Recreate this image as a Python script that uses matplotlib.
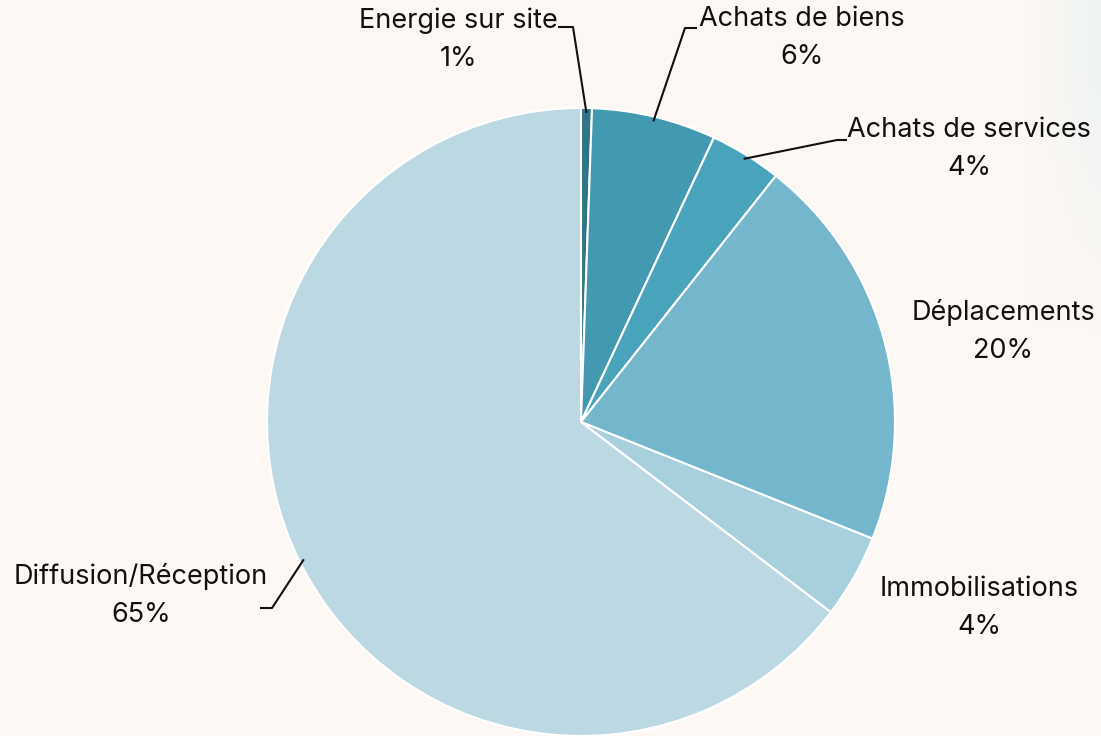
import numpy as np
import matplotlib
matplotlib.use("Agg")
import matplotlib.pyplot as plt

categories = ["Energie sur site", "Achats de biens", "Achats de services",
              "Déplacements", "Immobilisations", "Diffusion/Réception"]
values = [0.56, 6.4, 3.7, 20.4, 4.3, 64.64]
colors = ["#2f7587", "#4399b0", "#48a3bb", "#74b7cd", "#a7cfdc", "#bcd8e2"]

W, H = 1101, 736
bg = "#fdf8f4"
fig = plt.figure(figsize=(W / 100, H / 100), dpi=100, facecolor=bg)

# faint bluish fade at the top-right edge of the background
bgax = fig.add_axes([0, 0, 1, 1], zorder=-1)
bgax.axis("off")
gx = np.linspace(0, 1, 300)
gy = np.linspace(0, 1, 200)
GX, GY = np.meshgrid(gx, gy)
alpha = np.clip((GX - 0.93) / 0.07, 0, 1) * np.clip((GY - 0.55) / 0.35, 0, 1) * 0.55
rgba = np.zeros((200, 300, 4))
rgba[..., 0] = 0xe3 / 255
rgba[..., 1] = 0xf0 / 255
rgba[..., 2] = 0xf1 / 255
rgba[..., 3] = alpha
bgax.imshow(rgba, extent=[0, 1, 0, 1], origin="lower", aspect="auto")
bgax.set_xlim(0, 1)
bgax.set_ylim(0, 1)

cx, cy, R = 581, 422, 314
ax = fig.add_axes([(cx - R) / W, (H - cy - R) / H, 2 * R / W, 2 * R / H])
ax.set_facecolor("none")

wedges, _ = ax.pie(values, colors=colors, startangle=90, counterclock=False,
                   radius=1, wedgeprops=dict(edgecolor="white", linewidth=1.5))
ax.set_xlim(-1, 1)
ax.set_ylim(-1, 1)
ax.set_aspect("equal")
ax.axis("off")

def px(x, y):
    return ((x - cx) / R, (cy - y) / R)

# label text centre (pixels), elbow point (pixels) or None
label_pos = [(458, 40), (802, 38), (969, 149), (1003, 331), (979, 608), (141, 596)]
elbows = [((573, 27), (558, 27)), ((685, 28), (697, 28)), ((837, 140), (847, 140)),
          None, None, ((272, 608), (260, 608))]

font = "Inter"
for w, cat, v, lp, el in zip(wedges, categories, values, label_pos, elbows):
    tx, ty = px(*lp)
    ax.text(tx, ty, f"{cat}\n{v:.0f}%", ha="center", va="center",
            fontsize=19.5, family=font, color="#111111", linespacing=1.6,
            clip_on=False)
    if el is not None:
        th = np.deg2rad((w.theta1 + w.theta2) / 2)
        sx, sy = 0.985 * np.cos(th), 0.985 * np.sin(th)
        e1 = px(*el[0])
        e2 = px(*el[1])
        ax.plot([sx, e1[0], e2[0]], [sy, e1[1], e2[1]], color="#111111",
                lw=1.5, clip_on=False, solid_capstyle="butt")

fig.savefig("out.png", dpi=100, facecolor=bg)
